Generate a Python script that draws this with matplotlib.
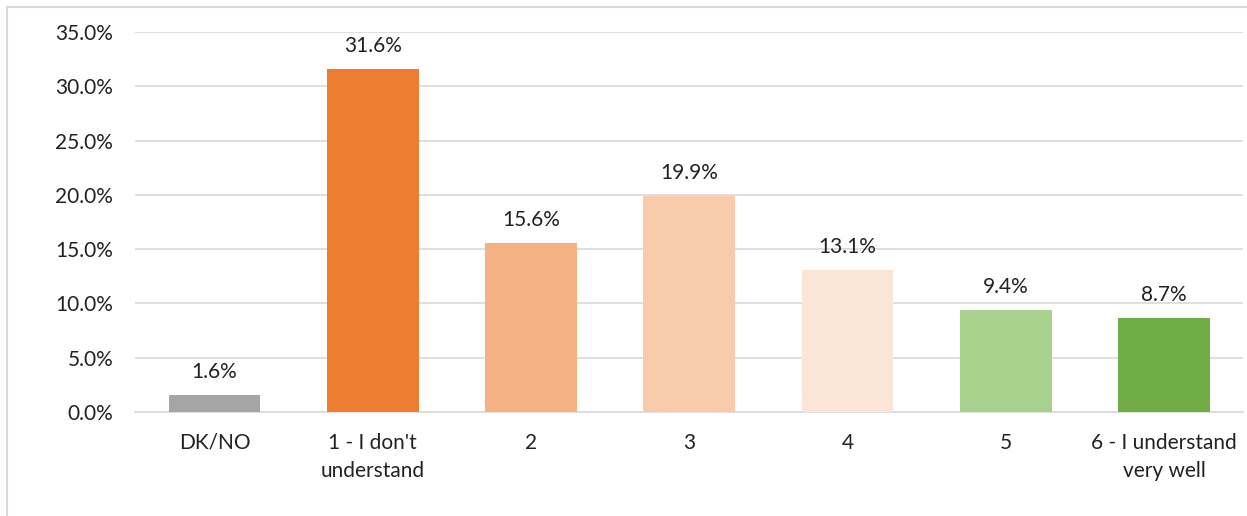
import matplotlib.pyplot as plt
from matplotlib.lines import Line2D
from matplotlib.ticker import FuncFormatter

categories = ["DK/NO", "1 - I don't\nunderstand", "2", "3", "4", "5", "6 - I understand\nvery well"]
shares = [1.6, 31.6, 15.6, 19.9, 13.1, 9.4, 8.7]
bar_colors = ["#A5A5A5", "#ED7D31", "#F4B183", "#F8CBAD", "#FBE5D6", "#A9D18E", "#70AD47"]

plt.rcParams["font.family"] = ["Lato", "DejaVu Sans"]
FS = 15

fig = plt.figure(figsize=(12.47, 5.16), dpi=100)
ax = fig.add_axes([0.1085, 0.2016, 0.8885, 0.7364])

x = range(len(categories))
bars = ax.bar(x, shares, width=0.58, color=bar_colors, zorder=3)
for rect, v in zip(bars, shares):
    ax.annotate(f"{v:.1f}%", (rect.get_x() + rect.get_width() / 2, v),
                xytext=(0, 9), textcoords="offset points",
                ha="center", va="bottom", fontsize=FS, color="#222222")

ax.set_xlim(-0.5, len(categories) - 0.5)
ax.set_ylim(0, 35)
ax.set_yticks([0, 5, 10, 15, 20, 25, 30, 35])
ax.yaxis.set_major_formatter(FuncFormatter(lambda v, _: f"{v:.1f}%"))
ax.set_xticks(list(x))
ax.set_xticklabels(categories, fontsize=FS, color="#222222", linespacing=1.5)
ax.tick_params(axis="y", labelsize=FS, labelcolor="#222222", length=0, pad=16)
ax.tick_params(axis="x", length=0, pad=15)
ax.grid(axis="y", color="#D9D9D9", linewidth=1.2, zorder=0)
for side in ["top", "right", "left"]:
    ax.spines[side].set_visible(False)
ax.spines["bottom"].set_color("#D9D9D9")
ax.spines["bottom"].set_linewidth(1.2)

# chart frame: top and left edges
fig.add_artist(Line2D([7 / 1247, 1.0], [1 - 7 / 516] * 2, color="#D9D9D9", linewidth=1.5))
fig.add_artist(Line2D([7 / 1247] * 2, [0.0, 1 - 7 / 516], color="#D9D9D9", linewidth=1.5))

fig.savefig("out.png", dpi=100)
